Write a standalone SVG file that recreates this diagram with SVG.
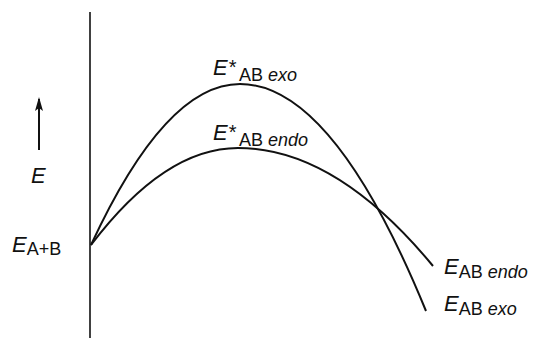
<svg xmlns="http://www.w3.org/2000/svg" width="533" height="338" viewBox="0 0 533 338">
<style>
text{font-family:"Liberation Sans",Arial,sans-serif;fill:#111}
.E{font-size:22px;font-style:italic}
.s{font-size:18px;font-style:normal}
.st{font-size:20px;font-style:normal}
.i{font-style:italic}
.ln{fill:none;stroke:#111;stroke-width:2}
</style>
<defs>
<marker id="ah" markerWidth="14" markerHeight="8" refX="12" refY="4" orient="auto" markerUnits="userSpaceOnUse" viewBox="0 0 14 8">
<path d="M0 0 L14 4 L0 8 L3 4 Z" fill="#111"/>
</marker>
</defs>
<g id="axis">
<line x1="90" y1="12" x2="90" y2="338" stroke="#111" stroke-width="1.6"/>
</g>
<g id="energy-arrow">
<line x1="39" y1="150" x2="39" y2="99" stroke="#111" stroke-width="2" marker-end="url(#ah)"/>
<text class="E" x="31" y="183">E</text>
</g>
<g id="connectors">
<path id="exo-curve" class="ln" d="M91 245 Q165.5 84 240 84 Q333 84 426 311"/>
<path id="endo-curve" class="ln" d="M91 245 Q164.5 148 238 148 Q335.5 148 433 266"/>
</g>
<g id="label-AplusB">
<text class="E" x="12" y="252">E<tspan class="s" dy="3">A+B</tspan></text>
</g>
<g id="label-exo-ts">
<text class="E" x="213" y="75">E<tspan class="st" dx="1" dy="-1">*</tspan><tspan class="s" x="239" y="81">AB <tspan class="i">exo</tspan></tspan></text>
</g>
<g id="label-endo-ts">
<text class="E" x="213" y="140">E<tspan class="st" dx="1" dy="-1">*</tspan><tspan class="s" x="239" y="146">AB <tspan class="i">endo</tspan></tspan></text>
</g>
<g id="label-endo">
<text class="E" x="444" y="274">E<tspan class="s" dy="4">AB <tspan class="i">endo</tspan></tspan></text>
</g>
<g id="label-exo">
<text class="E" x="444" y="311">E<tspan class="s" dy="4">AB <tspan class="i">exo</tspan></tspan></text>
</g>
</svg>
